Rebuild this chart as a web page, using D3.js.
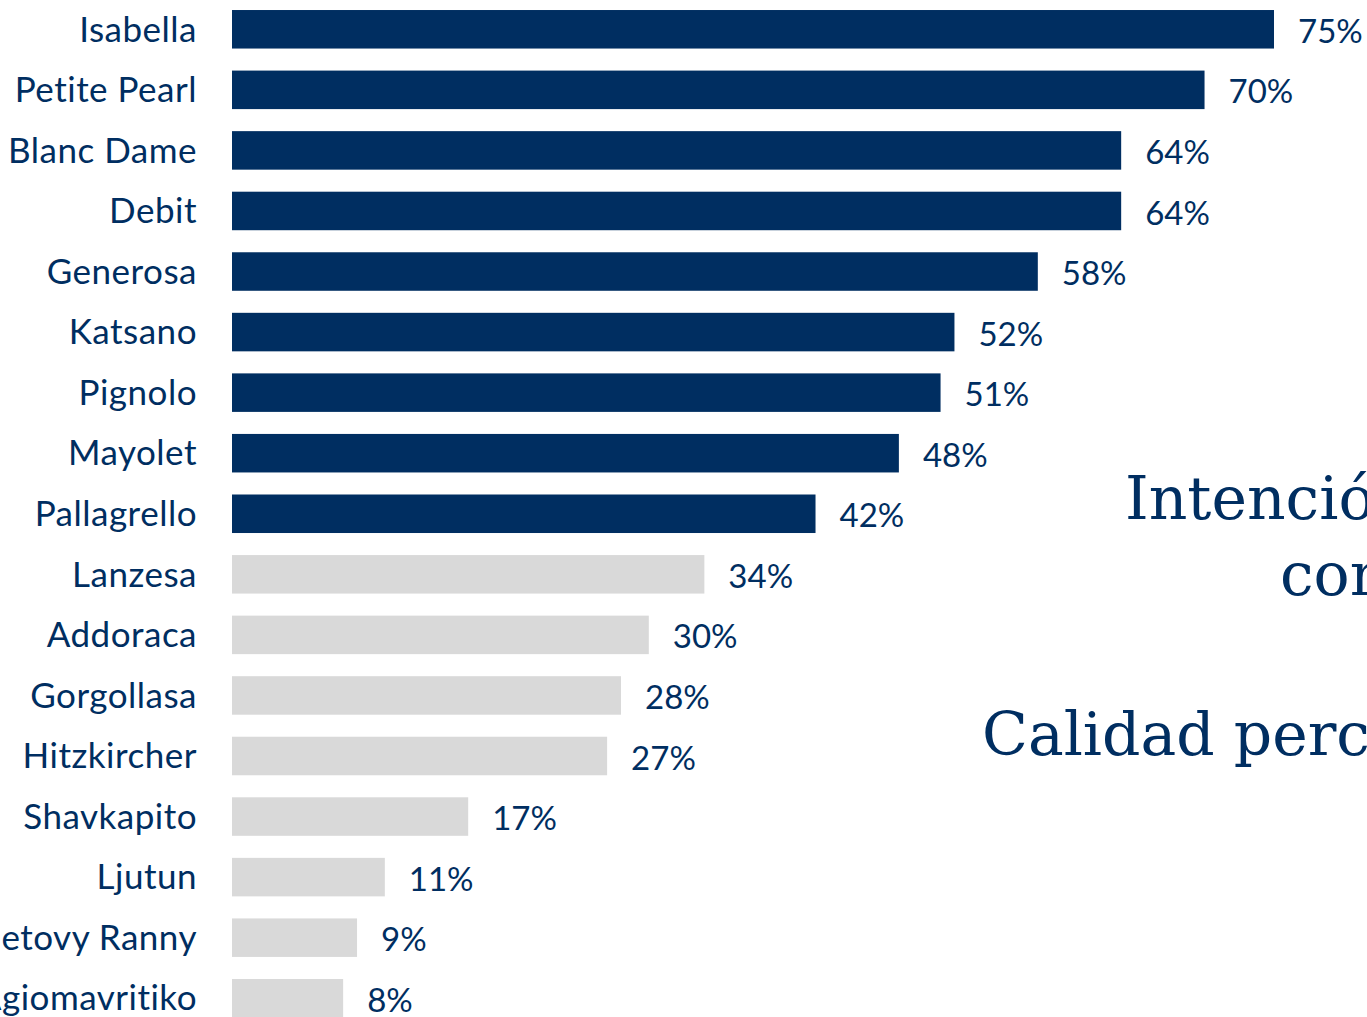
<!DOCTYPE html>
<html>
<head>
<meta charset="utf-8">
<script src="https://cdn.jsdelivr.net/npm/d3@7"></script>
<style>
  html, body { margin: 0; padding: 0; background: #fff; overflow: hidden; }
  svg { display: block; }
</style>
</head>
<body>
<svg id="chart" width="1367" height="1017"></svg>
<script>
// Grape varieties and share of respondents (%)
const varieties = [
  "Isabella", "Petite Pearl", "Blanc Dame", "Debit", "Generosa", "Katsano",
  "Pignolo", "Mayolet", "Pallagrello", "Lanzesa", "Addoraca", "Gorgollasa",
  "Hitzkircher", "Shavkapito", "Ljutun", "Zametovy Ranny", "Agiomavritiko"
];
const shares = [75, 70, 64, 64, 58, 52, 51, 48, 42, 34, 30, 28, 27, 17, 11, 9, 8];
// The first entries belong to the highlighted group
const highlightedCount = 9;

const sideTextLines = [
  { text: "Intención de", x: 1125, y: 519 },
  { text: "compra", x: 1280, y: 595 },
  { text: "Calidad percibida", x: 982, y: 755 }
];

const NAVY = "#002E61";
const GREY = "#D9D9D9";

const svg = d3.select("#chart");
const W = 1367, H = 1017;

const x = d3.scaleLinear().domain([0, 75]).range([232, 1274]);
const y = d3.scaleBand()
  .domain(varieties)
  .range([-1, -1 + 17 * 60.56])
  .paddingInner(0.364)
  .paddingOuter(0.182);

const data = varieties.map((v, i) => ({ name: v, value: shares[i], hi: i < highlightedCount }));

// Bars
svg.append("g").selectAll("rect")
  .data(data)
  .join("rect")
  .attr("x", x(0))
  .attr("y", d => y(d.name))
  .attr("width", d => x(d.value) - x(0))
  .attr("height", y.bandwidth())
  .attr("fill", d => d.hi ? NAVY : GREY);

// Category axis (labels only)
const yAxis = d3.axisLeft(y).tickSize(0).tickPadding(0);
const gy = svg.append("g")
  .attr("transform", "translate(197,0)")
  .call(yAxis);
gy.select(".domain").remove();
gy.selectAll("text")
  .attr("fill", NAVY)
  .attr("font-family", "Lato, 'Open Sans', sans-serif")
  .attr("font-size", 35)
  .attr("dy", "0.35em")
  .attr("letter-spacing", "0.5px");

// Value labels
svg.append("g").selectAll("text")
  .data(data)
  .join("text")
  .attr("x", d => x(d.value) + 24)
  .attr("y", d => y(d.name) + y.bandwidth() / 2 + 2)
  .attr("dy", "0.35em")
  .attr("fill", NAVY)
  .attr("font-family", "Lato, 'Open Sans', sans-serif")
  .attr("font-size", 33)
  .text(d => d.value + "%");

// Side caption
svg.append("g").selectAll("text")
  .data(sideTextLines)
  .join("text")
  .attr("x", d => d.x)
  .attr("y", d => d.y)
  .attr("fill", NAVY)
  .attr("font-family", "'DejaVu Serif', serif")
  .attr("font-size", 60)
  .text(d => d.text);
</script>
</body>
</html>
